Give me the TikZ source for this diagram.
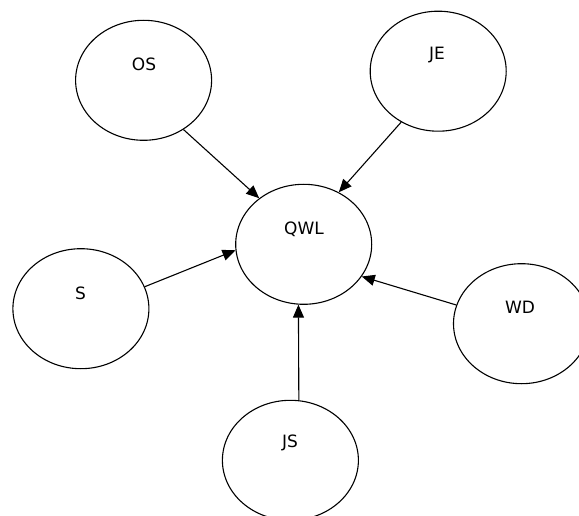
\documentclass[tikz,border=0pt]{standalone}
\usepackage{fontspec}
\setmainfont{DejaVu Sans}
\usetikzlibrary{shapes.geometric,arrows.meta}

\begin{document}
\begin{tikzpicture}[x=1pt,y=-1pt,
  bubble/.style={draw,ellipse,line width=1.1pt,minimum width=136pt,minimum height=120pt,inner sep=0pt},
  tag/.style={inner sep=0pt,font=\fontsize{17}{20}\selectfont},
  link/.style={line width=1.1pt,-{Triangle[length=13pt,width=11pt]}}]
\useasboundingbox (0,0) rectangle (579,516);

\node[bubble] (qwl) at (303.7,244.3) {};
\node[tag] (qwl-t) at (304,229) {QWL};
\node[bubble] (os) at (143.6,80.3) {};
\node[tag] (os-t) at (144,64) {OS};
\node[bubble] (je) at (438.2,71.2) {};
\node[tag] (je-t) at (437,55) {JE};
\node[bubble] (s) at (80.9,308.7) {};
\node[tag] (s-t) at (80.5,293) {S};
\node[bubble] (wd) at (521.5,323.7) {};
\node[tag] (wd-t) at (520,307) {WD};
\node[bubble] (js) at (290.4,460.3) {};
\node[tag] (js-t) at (290,443) {JS};

\draw[link] (os.-51) -- (qwl.134);
\draw[link] (je.-126) -- (qwl.56);
\draw[link] (s.19) -- (qwl.-175);
\draw[link] (wd.164) -- (qwl.-29.5);
\draw[link] (js.82.4) -- (qwl.-95);
\end{tikzpicture}
\end{document}
